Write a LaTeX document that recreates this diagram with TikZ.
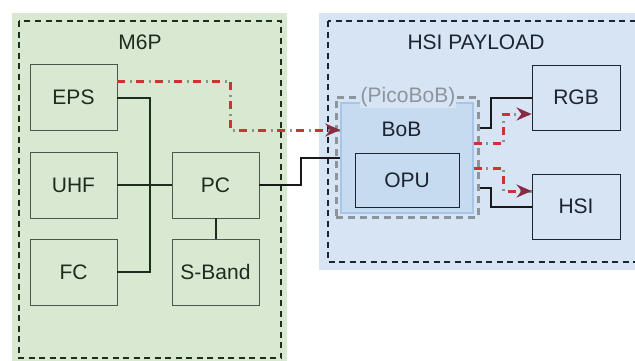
\documentclass[tikz,border=0pt]{standalone}
\usepackage{fontspec}
\setmainfont{Liberation Sans}
\usetikzlibrary{arrows.meta,calc}
\definecolor{gbg}{HTML}{D9E8D0}
\definecolor{bbg}{HTML}{D6E4F3}
\definecolor{bobfill}{HTML}{C6DAF0}
\definecolor{bobline}{HTML}{A8C4E6}
\definecolor{gline}{HTML}{1E2E1E}
\definecolor{gtext}{HTML}{1F2B1F}
\definecolor{btext}{HTML}{1C2432}
\definecolor{sigred}{HTML}{CC3333}
\definecolor{siggray}{HTML}{8A958A}
\definecolor{tipred}{HTML}{8B2A44}
\definecolor{picogray}{HTML}{8C959C}
\tikzset{
  lbl/.style={font=\fontsize{21}{24}\selectfont},
  gbox/.style={draw=gline!80, line width=0.9pt, fill=gbg, minimum width=87pt, minimum height=66pt, inner sep=0pt, lbl, text=gtext},
  bbox/.style={draw=btext, line width=0.9pt, minimum width=88pt, minimum height=65pt, inner sep=0pt, lbl, text=btext},
  bus/.style={draw=gline, line width=2pt},
  busb/.style={draw=black!90, line width=2pt},
  frame/.style={draw=gline, line width=1.6pt, dash pattern=on 6pt off 4.5pt},
  siggr/.style={draw=siggray, line width=3pt, dash pattern=on 8pt off 4.5pt on 2pt off 4.5pt},
  sigrd/.style={draw=sigred, line width=3pt, dash pattern=on 8pt off 11pt},
  tip/.style={-{Stealth[length=15pt,width=13pt,inset=5pt,color=tipred]}},
}
\begin{document}
\begin{tikzpicture}[x=1pt,y=-1pt]
\useasboundingbox (0,0) rectangle (635,360);
\clip (0,0) rectangle (635,360);
% backgrounds
\fill[gbg] (12,13) rectangle (287,365);
\draw[frame] (19,21) rectangle (281,358);
\fill[bbg] (319,13) rectangle (645,270);
\draw[frame, draw=btext] (328,21) rectangle (645,262);
\node[lbl, text=gtext] (m6p) at (140,42) {M6P};
\node[lbl, text=btext] (hsip) at (476,42) {HSI PAYLOAD};
% M6P boxes
\node[gbox] (EPS) at (73.5,97.5) {EPS};
\node[gbox] (UHF) at (73.5,185) {UHF};
\node[gbox] (FC) at (73.5,272) {FC};
\node[gbox] (PC) at (215.5,185) {PC};
\node[gbox] (SB) at (215.5,272) {S-Band};
% payload
\node[draw=picogray, line width=3pt, dash pattern=on 7pt off 5pt, minimum width=142pt, minimum height=120pt, inner sep=0pt] (pico) at (407,157) {};
\node[fill=bobfill, draw=bobline, line width=1.5pt, minimum width=132pt, minimum height=110pt, inner sep=0pt] (BoB) at (407,158) {};
\node[lbl, text=btext] (boblbl) at (401.5,129) {BoB};
\node[lbl, text=picogray, fill=bbg, inner sep=1pt] (picolbl) at (408,97) {(PicoBoB)};
\node[bbox, minimum width=104pt, minimum height=54pt] (OPU) at (407,180) {OPU};
\node[bbox] (RGB) at (576,97.5) {RGB};
\node[bbox] (HSI) at (576,206.5) {HSI};
% junction coordinates
\coordinate (busx) at (150,185);
\coordinate (j1) at (301,170);
\coordinate (j2) at (230,110);
% M6P wiring
\draw[bus] (EPS.east) -| (busx) |- (FC.east);
\draw[bus] (UHF.east) -- (PC.west);
\draw[bus] (PC.south) -- (SB.north);
\draw[busb] (PC.east) -| (j1) |- (BoB.west);
\draw[busb] ([yshift=29pt]pico.east) -- ++(11,0) |- (RGB.west);
\draw[busb] ([yshift=-31pt]pico.east) -- ++(11,0) |- (HSI.west);
% signal lines
\draw[siggr] ([yshift=16.5pt]EPS.east) -| (j2) |- ([yshift=28pt]BoB.west);
\draw[sigrd,tip] ([yshift=16.5pt]EPS.east) -| (j2) |- ([yshift=28pt]BoB.west);
\draw[siggr] ([yshift=15pt]BoB.east) -- ++(30,0) |- ([yshift=-16.5pt]RGB.west);
\draw[sigrd,tip] ([yshift=15pt]BoB.east) -- ++(30,0) |- ([yshift=-16.5pt]RGB.west);
\draw[siggr] ([yshift=-10pt]BoB.east) -- ++(30,0) |- ([yshift=15.5pt]HSI.west);
\draw[sigrd,tip] ([yshift=-10pt]BoB.east) -- ++(30,0) |- ([yshift=15.5pt]HSI.west);
\end{tikzpicture}
\end{document}
